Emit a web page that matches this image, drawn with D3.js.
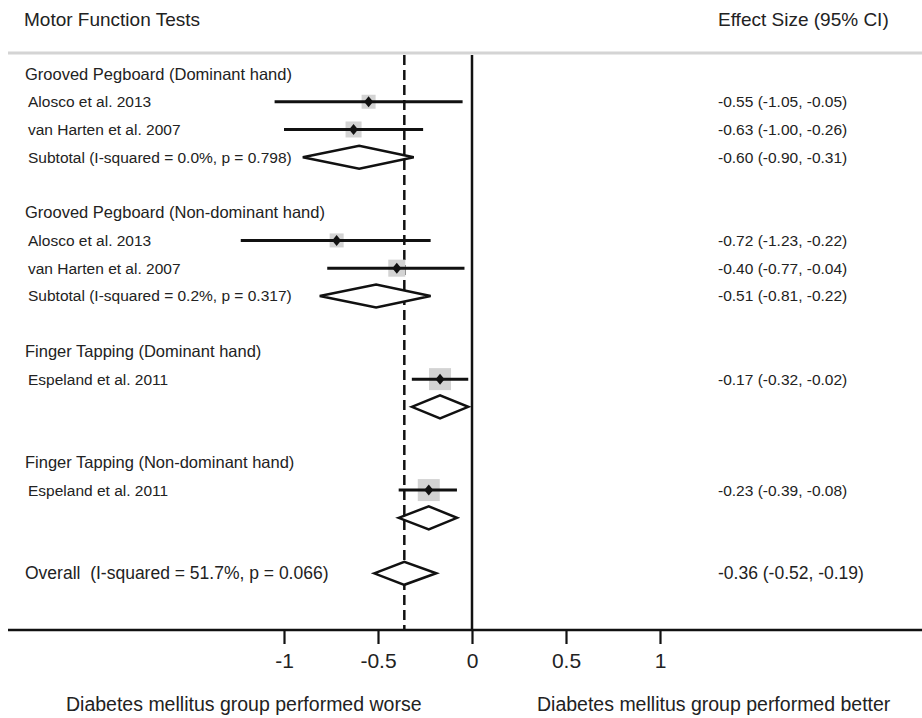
<!DOCTYPE html>
<html>
<head>
<meta charset="utf-8">
<script src="https://cdn.jsdelivr.net/npm/d3@7"></script>
<style>
  body { margin: 0; background: #fff; }
  text { font-family: "Liberation Sans", Arial, sans-serif; fill: #222; }
</style>
</head>
<body>
<div id="chart"></div>
<script>
// subgroup titles
var groups = ["Grooved Pegboard (Dominant hand)", "Grooved Pegboard (Non-dominant hand)",
              "Finger Tapping (Dominant hand)", "Finger Tapping (Non-dominant hand)"]

// individual studies
var studies = ["Alosco et al. 2013", "van Harten et al. 2007", "Alosco et al. 2013",
               "van Harten et al. 2007", "Espeland et al. 2011", "Espeland et al. 2011"]
var studyGroup = [0, 0, 1, 1, 2, 3]
var studyES = [-0.55, -0.63, -0.72, -0.40, -0.17, -0.23]
var studyLo = [-1.05, -1.00, -1.23, -0.77, -0.32, -0.39]
var studyHi = [-0.05, -0.26, -0.22, -0.04, -0.02, -0.08]
var studyWeight = [9.8, 12.8, 9.8, 14.5, 24.2, 24.2]

// subtotals (single-study groups have no label)
var subtotalLabels = ["Subtotal (I-squared = 0.0%, p = 0.798)", "Subtotal (I-squared = 0.2%, p = 0.317)", "", ""]
var subtotalES = [-0.60, -0.51, -0.17, -0.23]
var subtotalLo = [-0.90, -0.81, -0.32, -0.39]
var subtotalHi = [-0.31, -0.22, -0.02, -0.08]

var overallLabel = "Overall  (I-squared = 51.7%, p = 0.066)"
var overallES = -0.36, overallLo = -0.52, overallHi = -0.19

var xTicks = [-1, -0.5, 0, 0.5, 1]

var width = 922, height = 718

var svg = d3.select("#chart").append("svg")
    .attr("width", width)
    .attr("height", height)

var x = d3.scaleLinear().domain([-1, 1]).range([284, 660])
var y = d3.scaleLinear().domain([0, 18]).range([74, 573.3])
var box = d3.scaleSqrt().domain([0, 24.2]).range([0, 22])

var axisY = 630, topY = 53

function ci(es, lo, hi) {
  return es.toFixed(2) + " (" + lo.toFixed(2) + ", " + hi.toFixed(2) + ")"
}

// build the row layout
var rows = []
var r = 0
groups.forEach(function(g, gi) {
  rows.push({type: "group", label: g, row: r++})
  studies.forEach(function(s, i) {
    if (studyGroup[i] != gi) return
    rows.push({type: "study", label: s, es: studyES[i], lo: studyLo[i], hi: studyHi[i], w: studyWeight[i], row: r++})
  })
  rows.push({type: "subtotal", label: subtotalLabels[gi], es: subtotalES[gi], lo: subtotalLo[gi], hi: subtotalHi[gi], row: r++})
  r++
})
rows.push({type: "overall", label: overallLabel, es: overallES, lo: overallLo, hi: overallHi, row: r})

// header
svg.append("text").attr("x", 24).attr("y", 26).style("font-size", "19px").text("Motor Function Tests")
svg.append("text").attr("x", 718).attr("y", 26).style("font-size", "19px").text("Effect Size (95% CI)")

svg.append("line")
  .attr("x1", 8).attr("x2", width)
  .attr("y1", topY).attr("y2", topY)
  .attr("stroke", "#d4d4d4").attr("stroke-width", 3)

// reference lines
svg.append("line")
  .attr("x1", x(0)).attr("x2", x(0))
  .attr("y1", topY + 2).attr("y2", axisY)
  .attr("stroke", "#111").attr("stroke-width", 2.5)

svg.append("line")
  .attr("x1", x(overallES)).attr("x2", x(overallES))
  .attr("y1", topY + 2).attr("y2", axisY)
  .attr("stroke", "#111").attr("stroke-width", 2.5)
  .attr("stroke-dasharray", "10,5")

// labels on the left
svg.selectAll(".lbl")
  .data(rows.filter(function(d) { return d.label }))
  .enter().append("text")
    .attr("class", "lbl")
    .attr("x", function(d) { return d.type == "study" || d.type == "subtotal" ? 28 : 25 })
    .attr("y", function(d) { return y(d.row) })
    .attr("dy", "0.35em")
    .style("font-size", function(d) {
      return d.type == "group" ? "16.5px" : d.type == "overall" ? "17.5px" : "15.5px"
    })
    .style("white-space", "pre")
    .text(function(d) { return d.label })

// effect size column
svg.selectAll(".ci")
  .data(rows.filter(function(d) { return d.type == "study" || ((d.type == "subtotal" || d.type == "overall") && d.label) }))
  .enter().append("text")
    .attr("class", "ci")
    .attr("x", 718)
    .attr("y", function(d) { return y(d.row) })
    .attr("dy", "0.35em")
    .style("font-size", function(d) { return d.type == "overall" ? "17.5px" : "15.5px" })
    .text(function(d) { return ci(d.es, d.lo, d.hi) })

var studyRows = rows.filter(function(d) { return d.type == "study" })

// weight boxes
svg.selectAll(".box")
  .data(studyRows)
  .enter().append("rect")
    .attr("class", "box")
    .attr("x", function(d) { return x(d.es) - box(d.w) / 2 })
    .attr("y", function(d) { return y(d.row) - box(d.w) / 2 })
    .attr("width", function(d) { return box(d.w) })
    .attr("height", function(d) { return box(d.w) })
    .attr("fill", "#d3d3d3")

// confidence intervals
svg.selectAll(".whisker")
  .data(studyRows)
  .enter().append("line")
    .attr("class", "whisker")
    .attr("x1", function(d) { return x(d.lo) })
    .attr("x2", function(d) { return x(d.hi) })
    .attr("y1", function(d) { return y(d.row) })
    .attr("y2", function(d) { return y(d.row) })
    .attr("stroke", "#111").attr("stroke-width", 3)

// point estimates
svg.selectAll(".pt")
  .data(studyRows)
  .enter().append("path")
    .attr("class", "pt")
    .attr("transform", function(d) { return "translate(" + x(d.es) + "," + y(d.row) + ")" })
    .attr("d", "M0,-5.5L4.5,0L0,5.5L-4.5,0Z")
    .attr("fill", "#111")

// pooled diamonds
svg.selectAll(".diamond")
  .data(rows.filter(function(d) { return d.type == "subtotal" || d.type == "overall" }))
  .enter().append("path")
    .attr("class", "diamond")
    .attr("d", function(d) {
      var cy = y(d.row), h = 11.5
      return "M" + x(d.lo) + "," + cy + "L" + x(d.es) + "," + (cy - h) +
             "L" + x(d.hi) + "," + cy + "L" + x(d.es) + "," + (cy + h) + "Z"
    })
    .attr("fill", "#fff")
    .attr("stroke", "#111").attr("stroke-width", 2.5)
    .attr("stroke-linejoin", "miter")

// x axis
svg.append("line")
  .attr("x1", 8).attr("x2", width)
  .attr("y1", axisY).attr("y2", axisY)
  .attr("stroke", "#111").attr("stroke-width", 2.5)

var axis = svg.append("g")
  .attr("transform", "translate(0," + axisY + ")")
  .call(d3.axisBottom(x).tickValues(xTicks).tickSize(14).tickPadding(9)
        .tickFormat(function(d) { return String(d) }))

axis.select(".domain").remove()
axis.selectAll(".tick line").attr("stroke", "#111").attr("stroke-width", 2.2)
axis.selectAll(".tick text")
  .style("font-family", "Liberation Sans, Arial, sans-serif")
  .style("font-size", "21px")
  .attr("fill", "#222")

svg.append("text").attr("x", 66).attr("y", 711).style("font-size", "19.5px")
  .text("Diabetes mellitus group performed worse")
svg.append("text").attr("x", 537).attr("y", 711).style("font-size", "19.5px")
  .text("Diabetes mellitus group performed better")
</script>
</body>
</html>
